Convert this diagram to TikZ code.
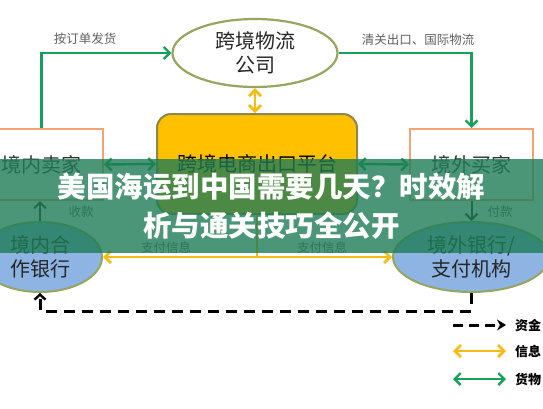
\documentclass[tikz,border=0pt]{standalone}
\usepackage{fontspec}
\setmainfont{Noto Sans CJK SC}
\usetikzlibrary{arrows.meta,shapes.geometric}
\definecolor{goodsgreen}{RGB}{22,160,92}
\definecolor{infoyellow}{RGB}{246,188,20}
\definecolor{boxorange}{RGB}{240,165,115}
\definecolor{olivebd}{RGB}{150,165,95}
\definecolor{platbd}{RGB}{140,135,75}
\definecolor{platfill}{RGB}{255,192,0}
\definecolor{bankfill}{RGB}{141,180,226}
\definecolor{bannergreen}{RGB}{30,124,86}
\definecolor{tagtext}{RGB}{95,95,95}

\begin{document}
\begin{tikzpicture}[x=1pt, y=-1pt,
  >={Straight Barb[length=6pt,width=12pt]},
  party/.style={draw=boxorange, line width=2pt, fill=white, minimum width=123pt,
                minimum height=71pt, font=\fontsize{20}{24}\selectfont, text=black!80},
  carrier/.style={ellipse, draw=olivebd, line width=2.2pt, fill=white, inner sep=0pt,
                minimum width=165pt, minimum height=68pt, align=center,
                font=\fontsize{20}{24}\selectfont, text=black!85},
  platform/.style={draw=platbd, line width=2pt, fill=platfill, rounded corners=14pt,
                minimum width=200pt, minimum height=100pt, font=\fontsize{20}{24}\selectfont},
  bank/.style={ellipse, draw=olivebd, line width=2pt, fill=bankfill, inner sep=0pt,
                minimum height=70pt, align=center, font=\fontsize{20}{24}\selectfont, text=black!85},
  goods/.style={goodsgreen, line width=2.4pt},
  info/.style={infoyellow, line width=2.8pt},
  fund/.style={black, line width=3pt, dash pattern=on 11pt off 7pt},
  tag/.style={font=\fontsize{12.5}{14}\selectfont, text=tagtext},
  keytext/.style={font=\bfseries\fontsize{13}{15}\selectfont, anchor=west, inner sep=1pt},
  headline/.style={font=\bfseries\fontsize{28.5}{32}\selectfont, text=white}
]
\useasboundingbox (0,0) rectangle (543,408);
\clip (0,0) rectangle (543,408);

\node[carrier] (logi) at (255,53) {跨境物流\\公司};
\node[platform] (plat) at (257,164) {跨境电商出口平台};
\node[party] (seller) at (41.5,164.5) {境内卖家};
\node[party] (buyer) at (471.5,164.5) {境外买家};
\node[bank, minimum width=124pt] (bankcn) at (40,257) {境内合\\作银行};
\node[bank, minimum width=156pt] (bankov) at (471,257) {境外银行/\\支付机构};

\draw[goods,->] (seller.north) |- (logi.west);
\draw[goods,->] (logi.east) -| (buyer.north);
\draw[info,<->] (logi.south) -- (logi.south |- plat.north);
\draw[goods,<->] (seller.east) -- (plat.west);
\draw[goods,<->] (plat.east) -- (buyer.west);

\coordinate (junc) at (plat.south |- bankcn.east);
\draw[info] (plat.south) -- (junc);
\draw[info,->] (junc) -- (bankcn.east);
\draw[info,->] (junc) -- (bankov.west);

\draw[black!85, line width=2pt, ->] (bankcn.north) -- (bankcn.north |- seller.south);
\draw[black!85, line width=2pt, ->] (buyer.south) -- (buyer.south |- bankov.north);

\coordinate (fr) at (471,311);
\coordinate (fl) at (40,311);
\draw[fund, -{Straight Barb[length=5pt,width=11pt,line width=2.4pt]}] (bankov.south) -- (fr) -- (fl) -- (bankcn.south);

\node[tag] (t1) at (85,39) {按订单发货};
\node[tag] (t2) at (418,40) {清关出口、国际物流};
\node[tag] (t3) at (81,212) {收款};
\node[tag] (t4) at (500,212) {付款};
\node[tag] (t5) at (166,248) {支付信息};
\node[tag] (t6) at (322,248) {支付信息};

\node[keytext] (kfund) at (514,325) {资金};
\node[keytext] (kinfo) at (514,351) {信息};
\node[keytext] (kgoods) at (514,379) {货物};
\coordinate (kf) at (453,325);
\coordinate (ki) at (453,351);
\coordinate (kg) at (453,379);
\draw[fund, dash pattern=on 10pt off 6pt, -{Stealth[length=9pt,width=11pt]}, shorten >=8pt] (kf) -- (kfund.west);
\draw[info, <->, shorten >=8pt] (ki) -- (kinfo.west);
\draw[goods, <->, shorten >=8pt] (kg) -- (kgoods.west);

\fill[bannergreen, opacity=0.8] (0,159) rectangle (543,253);
\node[headline] (h1) at (271.5,187) {美国海运到中国需要几天？时效解};
\node[headline] (h2) at (271.5,226) {析与通关技巧全公开};
\end{tikzpicture}
\end{document}
